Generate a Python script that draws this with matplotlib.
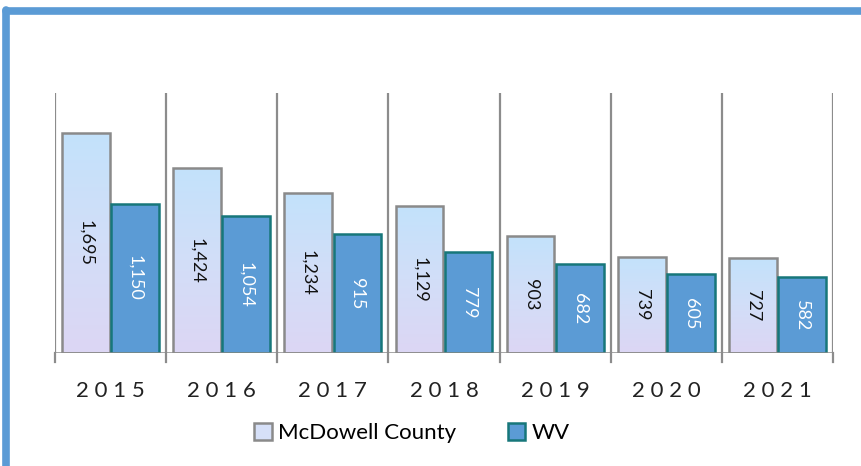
import numpy as np
import matplotlib.pyplot as plt
from matplotlib.patches import Patch
from matplotlib.lines import Line2D

years = ['2015', '2016', '2017', '2018', '2019', '2020', '2021']
mcdowell = [1695, 1424, 1234, 1129, 903, 739, 727]
wv = [1150, 1054, 915, 779, 682, 605, 582]

plt.rcParams['font.family'] = ['Lato', 'DejaVu Sans']

fig = plt.figure(figsize=(8.62, 4.66), dpi=100)
ax = fig.add_axes([55/862, 113/466, 778/862, 260/466])

x = np.arange(len(years))
w = 0.43
gap = 0.012

# light textured-looking fill for the county bars
grad = np.linspace(0, 1, 64).reshape(-1, 1) * np.ones((1, 8))
cmap = plt.matplotlib.colors.LinearSegmentedColormap.from_list(
    'pale', ['#dcd6f4', '#d2def8', '#c3e2fb'])

b1 = ax.bar(x - w/2 - gap/2, mcdowell, w, facecolor='none', edgecolor='#8a8a8a', linewidth=1.8, zorder=3)
for bar in b1:
    x0, y0 = bar.get_x(), bar.get_y()
    im = ax.imshow(grad, extent=[x0, x0 + bar.get_width(), y0, y0 + bar.get_height()],
                   aspect='auto', cmap=cmap, origin='lower', zorder=2)
    im.set_clip_path(bar)
b2 = ax.bar(x + w/2 + gap/2, wv, w, color='#5b9bd5', edgecolor='#17777a', linewidth=1.8, zorder=3)

for bar, v in zip(b1, mcdowell):
    ax.text(bar.get_x() + bar.get_width()/2, v/2, f'{v:,}', rotation=270,
            ha='center', va='center', fontsize=13, color='#111111', zorder=4)
for bar, v in zip(b2, wv):
    ax.text(bar.get_x() + bar.get_width()/2, v/2, f'{v:,}', rotation=270,
            ha='center', va='center', fontsize=13, color='white', zorder=4)

ax.set_xlim(-0.5, len(years) - 0.5)
ax.set_ylim(0, 2000)

# category separators
for b in np.arange(-0.5, len(years), 1):
    ax.axvline(b, color='#8c8c8c', linewidth=1.6, zorder=1)
    ax.plot([b, b], [0, -70], color='#8c8c8c', linewidth=1.6, clip_on=False)
ax.axhline(0, color='#8c8c8c', linewidth=1.8, zorder=5)

for s in ax.spines.values():
    s.set_visible(False)
ax.set_yticks([])
ax.set_xticks(x)
ax.set_xticklabels([' '.join(y) for y in years], fontsize=16, color='#222222')
ax.tick_params(axis='x', length=0, pad=20)
ax.set_facecolor('none')

handles = [Patch(facecolor='#d6e0f8', edgecolor='#8a8a8a', linewidth=1.8),
           Patch(facecolor='#5b9bd5', edgecolor='#17777a', linewidth=1.8)]
fig.legend(handles, ['McDowell County', 'WV'], loc='center', bbox_to_anchor=(412/862, 1 - 433/466),
           ncol=2, frameon=False, fontsize=16, handlelength=0.8, handleheight=0.8,
           handletextpad=0.3, columnspacing=2.3)

# blue frame around the chart area
fig.add_artist(Line2D([6.5/862, 6.5/862], [0, 1 - 10/466], color='#5b9bd5', linewidth=5.5,
                      transform=fig.transFigure, solid_capstyle='round'))
fig.add_artist(Line2D([6.5/862, 1.01], [1 - 10.5/466, 1 - 10.5/466], color='#5b9bd5', linewidth=5.5,
                      transform=fig.transFigure, solid_capstyle='round'))

fig.savefig('out.png', dpi=100)
